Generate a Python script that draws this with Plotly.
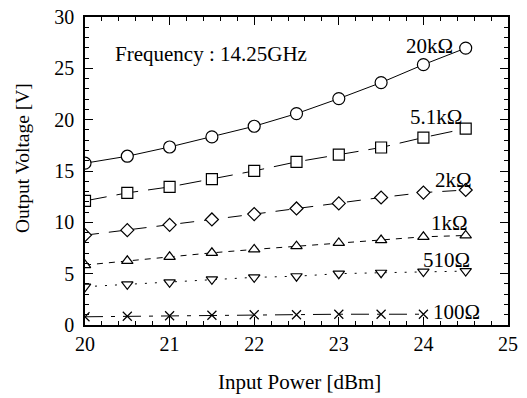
import plotly.graph_objects as go

power = [20, 20.5, 21, 21.5, 22, 22.5, 23, 23.5, 24, 24.5]
v_20k = [15.76, 16.44, 17.34, 18.32, 19.36, 20.59, 22.05, 23.61, 25.36, 26.97]
v_5k1 = [12.09, 12.87, 13.45, 14.2, 15.01, 15.89, 16.6, 17.29, 18.26, 19.13]
v_2k = [8.75, 9.24, 9.76, 10.28, 10.8, 11.35, 11.84, 12.42, 12.9, 13.15]
v_1k = [5.84, 6.25, 6.64, 7.03, 7.36, 7.68, 8.0, 8.27, 8.59, 8.72]
v_510 = [3.73, 3.96, 4.15, 4.45, 4.64, 4.75, 5.0, 5.09, 5.2, 5.25]
power_100 = [20, 20.5, 21, 21.5, 22, 22.5, 23, 23.5, 24]
v_100 = [0.8, 0.85, 0.9, 0.95, 1.0, 1.0, 1.05, 1.05, 1.05]

labels = ["20kΩ", "5.1kΩ", "2kΩ", "1kΩ", "510Ω", "100Ω"]
label_x = [24.07, 24.15, 24.36, 24.31, 24.27, 24.39]
label_y = [27.2, 20.26, 14.1, 9.9, 6.32, 1.3]

FONT = "Liberation Serif"

series = [
    (power, v_20k, "circle", 12, "solid"),
    (power, v_5k1, "square", 11, "22px,10px"),
    (power, v_2k, "diamond", 10, "14px,10px"),
    (power, v_1k, "triangle-up", 10, "6px,6px"),
    (power, v_510, "triangle-down", 10, "2px,8px"),
    (power_100, v_100, "x-thin", 9, "18px,8px,4px,8px"),
]

fig = go.Figure()
for (xs, ys, sym, sz, dash), name in zip(series, labels):
    fig.add_trace(go.Scatter(
        x=xs, y=ys, mode="lines+markers", name=name,
        line=dict(color="black", width=1, dash=dash),
        marker=dict(symbol=sym, size=sz, color="white",
                    line=dict(color="black", width=1.2)),
        showlegend=False,
    ))

for t, x, y in zip(labels, label_x, label_y):
    fig.add_annotation(x=x, y=y, text=t, showarrow=False,
                       font=dict(family=FONT, size=21, color="black"))

fig.add_annotation(x=21.49, y=26.4, text="Frequency : 14.25GHz", showarrow=False,
                   font=dict(family=FONT, size=21, color="black"))

# axis titles as annotations for exact placement
fig.add_annotation(xref="paper", yref="paper", x=-0.149, y=0.542,
                   text="Output Voltage [V]", textangle=-90, showarrow=False,
                   xanchor="center", yanchor="middle",
                   font=dict(family=FONT, size=19.5, color="black"))
fig.add_annotation(xref="paper", yref="paper", x=0.508, y=-0.184,
                   text="Input Power [dBm]", showarrow=False,
                   xanchor="center", yanchor="middle",
                   font=dict(family=FONT, size=21, color="black"))

axis_common = dict(
    showgrid=False, zeroline=False, showline=True, linecolor="black",
    linewidth=1.5, mirror="allticks", ticks="inside", tickcolor="black",
    ticklen=8, tickwidth=1, tickfont=dict(family=FONT, size=20, color="black"),
    automargin=False,
)

fig.update_xaxes(range=[20, 25], dtick=1, tick0=20,
                 minor=dict(dtick=0.2, ticks="inside", ticklen=4, tickcolor="black"),
                 **axis_common)
fig.update_yaxes(range=[0, 30], dtick=5, tick0=0, ticklabelstandoff=5,
                 minor=dict(dtick=1, ticks="inside", ticklen=4, tickcolor="black"),
                 **axis_common)

fig.update_layout(
    width=527, height=398,
    margin=dict(l=85, r=19, t=17, b=73),
    paper_bgcolor="white", plot_bgcolor="white",
)

fig.write_html("out.html", config={"displayModeBar": False},
               post_script="document.body.style.margin='0';")
